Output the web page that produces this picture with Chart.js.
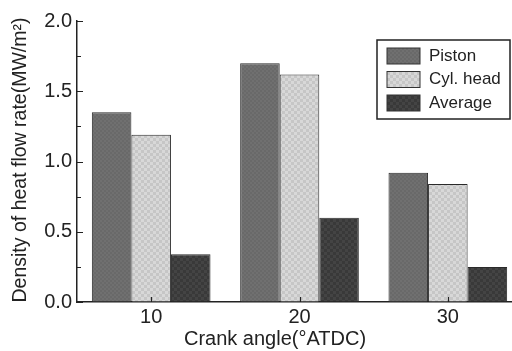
<!DOCTYPE html>
<html>
<head>
<meta charset="utf-8">
<script src="https://cdn.jsdelivr.net/npm/chart.js@4"></script>
<style>
  html, body { margin: 0; padding: 0; background: #fff; overflow: hidden; }
  #wrap { width: 522px; height: 351px; }
</style>
</head>
<body>
<div id="wrap"><canvas id="heatChart"></canvas></div>
<script>
// data
const crankAngles = ['10', '20', '30'];
const pistonVals = [1.35, 1.70, 0.92];
const cylHeadVals = [1.19, 1.62, 0.84];
const averageVals = [0.34, 0.60, 0.25];
const seriesNames = ['Piston', 'Cyl. head', 'Average'];
const yTicks = [0, 0.5, 1.0, 1.5, 2.0];
const xTitle = 'Crank angle(°ATDC)';
const yTitle = 'Density of heat flow rate(MW/m²)';

const FONT = '"Liberation Sans", Arial, sans-serif';

// little checker textures like the printed figure
function makePattern(base, dot, size) {
    const c = document.createElement('canvas');
    c.width = size; c.height = size;
    const g = c.getContext('2d');
    g.fillStyle = base;
    g.fillRect(0, 0, size, size);
    g.fillStyle = dot;
    g.fillRect(0, 0, size / 2, size / 2);
    g.fillRect(size / 2, size / 2, size / 2, size / 2);
    return g.createPattern(c, 'repeat');
}

const fills = [
    makePattern('#696969', '#707070', 4),
    makePattern('#c6c6c6', '#d8d8d8', 6),
    makePattern('#393939', '#444444', 6)
];

// axis titles placed by hand (the original isn't centred on the plot)
const axisTitles = {
    id: 'axisTitles',
    afterDraw(chart) {
        const ctx = chart.ctx;
        ctx.save();
        ctx.fillStyle = '#222';
        ctx.textAlign = 'center';
        ctx.textBaseline = 'middle';
        ctx.font = '20px ' + FONT;
        ctx.fillText(xTitle, 275, 339);
        ctx.translate(21, 160);
        ctx.rotate(-Math.PI / 2);
        ctx.font = '19.5px ' + FONT;
        ctx.fillText(yTitle, 0, 0);
        ctx.restore();
    }
};

// inward ticks, major + minor on y
const inTicks = {
    id: 'inTicks',
    afterDatasetsDraw(chart) {
        const ctx = chart.ctx;
        const area = chart.chartArea;
        const y = chart.scales.y, x = chart.scales.x;
        ctx.save();
        ctx.strokeStyle = '#222';
        ctx.lineWidth = 1.2;
        ctx.beginPath();
        y.ticks.forEach(t => {
            const py = Math.round(y.getPixelForValue(t.value)) + 0.5;
            const len = yTicks.includes(t.value) ? 6 : 4;
            ctx.moveTo(area.left, py);
            ctx.lineTo(area.left + len, py);
        });
        crankAngles.forEach((c, i) => {
            const px = Math.round(x.getPixelForValue(i)) + 0.5;
            ctx.moveTo(px, area.bottom);
            ctx.lineTo(px, area.bottom - 5);
        });
        ctx.stroke();
        ctx.restore();
    }
};

// legend with a frame, drawn inside the plot like the original
const boxLegend = {
    id: 'boxLegend',
    afterDraw(chart) {
        const ctx = chart.ctx;
        const x0 = 377, y0 = 40, w = 133, h = 79;
        ctx.save();
        ctx.fillStyle = '#fff';
        ctx.fillRect(x0, y0, w, h);
        ctx.strokeStyle = '#222';
        ctx.lineWidth = 1.5;
        ctx.strokeRect(x0, y0, w, h);
        ctx.font = '17px ' + FONT;
        ctx.textBaseline = 'middle';
        chart.data.datasets.forEach((ds, i) => {
            const cy = y0 + 16 + i * 23.5;
            ctx.fillStyle = ds.backgroundColor;
            ctx.fillRect(x0 + 10, cy - 8, 33, 16);
            ctx.strokeStyle = '#333';
            ctx.lineWidth = 1;
            ctx.strokeRect(x0 + 10, cy - 8, 33, 16);
            ctx.fillStyle = '#222';
            ctx.fillText(ds.label, x0 + 52, cy);
        });
        ctx.restore();
    }
};

const ctx = document.getElementById('heatChart').getContext('2d');
new Chart(ctx, {
    type: 'bar',
    data: {
        labels: crankAngles,
        datasets: [
            { label: seriesNames[0], data: pistonVals, backgroundColor: fills[0] },
            { label: seriesNames[1], data: cylHeadVals, backgroundColor: fills[1] },
            { label: seriesNames[2], data: averageVals, backgroundColor: fills[2] }
        ].map(d => Object.assign(d, {
            borderColor: '#2a2a2a',
            borderWidth: 1,
            categoryPercentage: 0.8,
            barPercentage: 1.0
        }))
    },
    options: {
        responsive: true,
        maintainAspectRatio: false,
        animation: false,
        layout: { padding: { top: 21, right: 0, left: 4, bottom: 4 } },
        plugins: {
            legend: { display: false },
            tooltip: { enabled: false }
        },
        scales: {
            x: {
                offset: true,
                border: { color: '#222', width: 1.5 },
                grid: { display: true, drawOnChartArea: false, drawTicks: false },
                ticks: { color: '#222', font: { size: 20, family: FONT }, padding: 3 },
                afterFit: s => { s.height = 45; }
            },
            y: {
                min: 0,
                max: 2.0,
                border: { color: '#222', width: 1.5 },
                grid: { drawOnChartArea: false, drawTicks: false },
                ticks: {
                    stepSize: 0.25,
                    color: '#222',
                    padding: 5,
                    font: { size: 20, family: FONT },
                    callback: v => yTicks.includes(v) ? v.toFixed(1) : ''
                },
                afterFit: s => { s.width = 73; }
            }
        }
    },
    plugins: [inTicks, boxLegend, axisTitles]
});
</script>
</body>
</html>
